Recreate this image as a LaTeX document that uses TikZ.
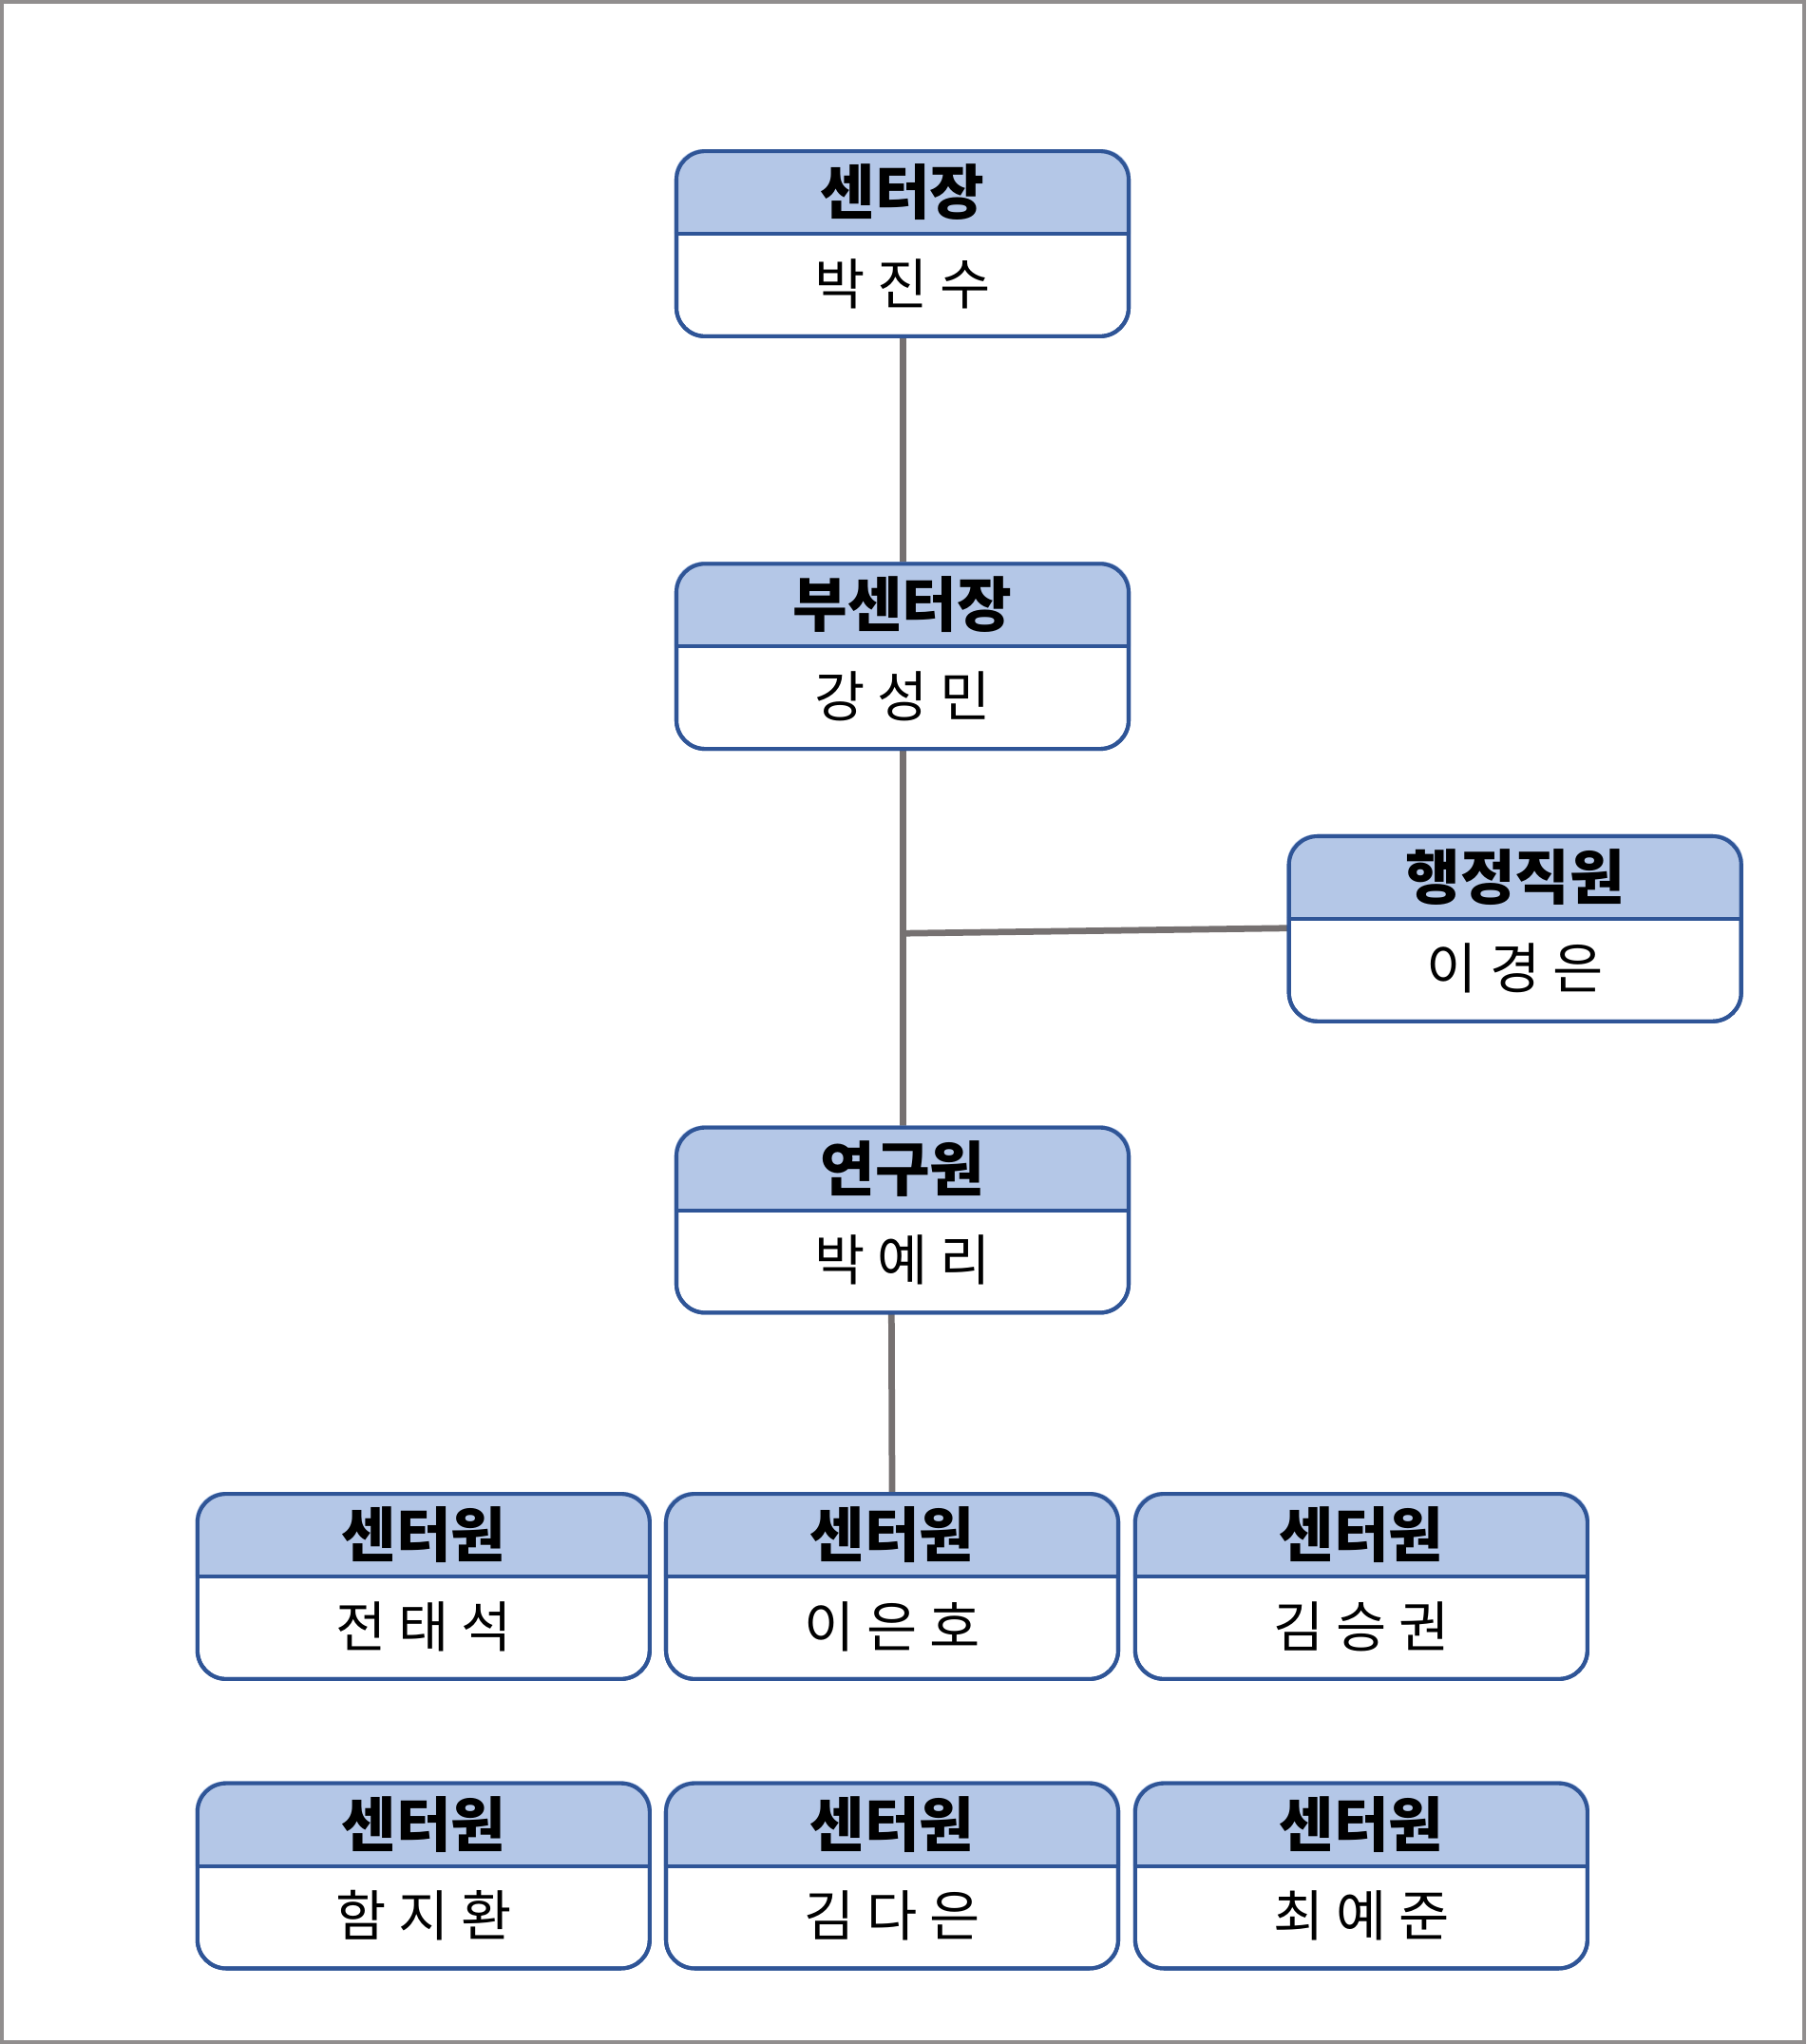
\documentclass[tikz,border=0pt]{standalone}
\usepackage{fontspec}
\newfontfamily\kr{Noto Sans CJK KR}
\usetikzlibrary{calc,positioning}
\definecolor{hdfill}{HTML}{B4C7E7}
\definecolor{bdblue}{HTML}{2F5597}
\definecolor{lngray}{HTML}{767171}
\tikzset{
  box/.style={draw=bdblue, line width=0.85pt, rounded corners=0.22cm, minimum width=3.47cm, minimum height=1.42cm, inner sep=0pt},
  title/.style={font=\kr\fontsize{13}{15}\selectfont\bfseries, inner sep=0pt},
  who/.style={font=\kr\fontsize{12}{14}\selectfont, inner sep=0pt},
  link/.style={draw=lngray, line width=1.4pt}
}
% name, position, title, person
\newcommand\staff[4]{%
  \node[box] (#1) at (#2) {};
  \fill[hdfill] ([yshift=-0.65cm]#1.north west) {[rounded corners=0.22cm] -- (#1.north west) -- (#1.north east)} -- ([yshift=-0.65cm]#1.north east) -- cycle;
  \draw[bdblue, line width=0.85pt] ([yshift=-0.65cm]#1.north west) -- ([yshift=-0.65cm]#1.north east);
  \node[box, fill=none] at (#1) {};
  \node[title] (#1-t) at ([yshift=-0.33cm]#1.north) {#3};
  \node[who] (#1-n) at ([yshift=-1.03cm]#1.north) {#4};
}
\begin{document}
\begin{tikzpicture}
  \useasboundingbox (0,0) rectangle (13.86,-15.68);
  \draw[lngray!80, line width=0.9pt] (0.015,-0.015) rectangle (13.845,-15.665);

  % connectors first
  \coordinate (ctrpos) at (6.925,-1.87);
  \coordinate (vicepos) at (6.925,-5.035);
  \coordinate (admpos) at (11.625,-7.125);
  \coordinate (respos) at (6.925,-9.36);
  \draw[link] (6.93,-2.58) -- (6.93,-4.33);
  \draw[link] (6.93,-5.75) -- (6.93,-8.65);
  \coordinate (junc) at (6.93,-7.16);
  \draw[link] (junc) -- (9.89,-7.12);
  \draw[link] (6.84,-10.07) -- (6.845,-11.46);

  \staff{ctr}{ctrpos}{센터장}{박 진 수}
  \staff{vice}{vicepos}{부센터장}{강 성 민}
  \staff{adm}{admpos}{행정직원}{이 경 은}
  \staff{res}{respos}{연구원}{박 예 리}
  \staff{ma}{3.25,-12.17}{센터원}{전 태 석}
  \staff{mb}{6.845,-12.17}{센터원}{이 은 호}
  \staff{mc}{10.445,-12.17}{센터원}{김 승 권}
  \staff{md}{3.25,-14.39}{센터원}{함 지 환}
  \staff{me}{6.845,-14.39}{센터원}{김 다 은}
  \staff{mf}{10.445,-14.39}{센터원}{최 예 준}
\end{tikzpicture}
\end{document}
